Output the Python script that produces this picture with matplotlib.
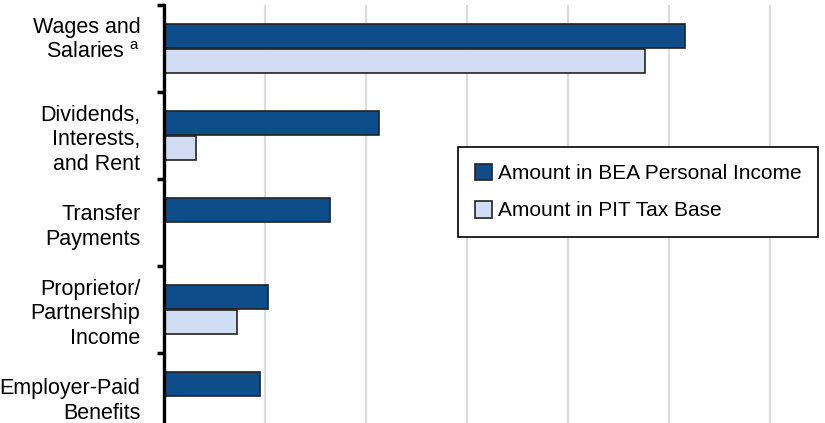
import numpy as np
import matplotlib.pyplot as plt
from matplotlib.transforms import ScaledTranslation

# Income components (units = gridline steps)
categories = ['Wages and\nSalaries $^{\\mathregular{a}}$',
              'Dividends,\nInterests,\nand Rent',
              'Transfer\nPayments',
              'Proprietor/\nPartnership\nIncome',
              'Employer-Paid\nBenefits']
bea_income = [5.16, 2.13, 1.64, 1.03, 0.95]
pit_base = [4.76, 0.32, 0.0, 0.72, 0.0]

dark_blue = '#0e4c8a'
light_blue = '#d0ddf2'

plt.rcParams['font.family'] = ['Liberation Sans', 'DejaVu Sans']

fig = plt.figure(figsize=(8.25, 4.23), dpi=100)
ax = fig.add_axes([164 / 825, (423 - 440) / 423, (825 - 164) / 825, 435 / 423])

y = np.arange(len(categories))
h = 0.28
ax.barh(y - 0.145, bea_income, height=h, color=dark_blue, edgecolor='#222222',
        linewidth=1.2, label='Amount in BEA Personal Income', zorder=3)
# only draw PIT bars where there is a value
mask = np.array(pit_base) > 0
ax.barh(y[mask] + 0.145, np.array(pit_base)[mask], height=h, color=light_blue,
        edgecolor='#222222', linewidth=1.2, label='Amount in PIT Tax Base', zorder=3)

ax.set_xlim(0, (825 - 164) / 101)
ax.set_ylim(4.5, -0.5)
ax.set_xticks([1, 2, 3, 4, 5, 6])
ax.set_xticklabels([])
ax.tick_params(axis='x', length=0)
ax.grid(axis='x', color='#dcdcdc', linewidth=1.6, zorder=0)

ax.set_yticks(y)
ax.set_yticklabels(categories, fontsize=15.5, ha='right', linespacing=1.22)
ax.tick_params(axis='y', which='major', length=0, pad=17)
ax.set_yticks(np.arange(-0.5, 4.0, 1.0), minor=True)
ax.tick_params(axis='y', which='minor', length=5, width=2.5, direction='out')
# first label sits a little higher in the original
lab0 = ax.get_yticklabels()[0]
lab0.set_transform(lab0.get_transform() + ScaledTranslation(0, 9 / 72, fig.dpi_scale_trans))

for s in ['top', 'right', 'bottom']:
    ax.spines[s].set_visible(False)
ax.spines['left'].set_linewidth(2.4)
ax.spines['left'].set_zorder(4)

leg = ax.legend(loc='upper left', bbox_to_anchor=(458 / 825, 1 - 147 / 423),
                bbox_transform=fig.transFigure, borderaxespad=0, fontsize=15,
                frameon=True, fancybox=False, edgecolor='black', framealpha=1,
                handlelength=0.85, handleheight=0.85, handletextpad=0.25,
                labelspacing=0.85, borderpad=0.8)
leg.get_frame().set_linewidth(1.2)

fig.savefig('out.png', dpi=100)
